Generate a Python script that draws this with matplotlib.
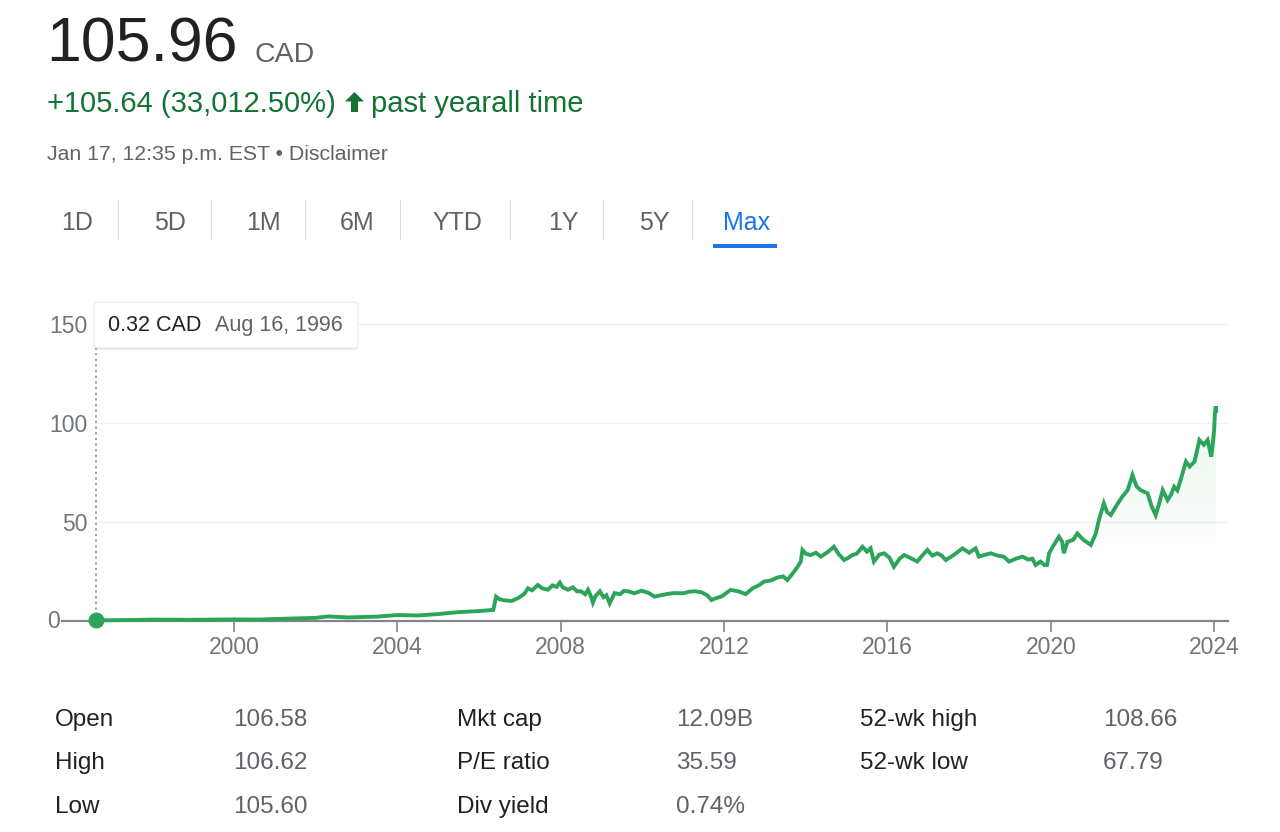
import matplotlib.pyplot as plt
import numpy as np
from matplotlib.patches import FancyBboxPatch, Polygon, Rectangle
from matplotlib.transforms import IdentityTransform

plt.rcParams["font.family"] = ["Liberation Sans", "DejaVu Sans"]

W, H = 1280, 832
GREEN = "#2ca55a"
TXT = "#202124"
GREY = "#5f6368"
AXG = "#70757a"
UP = "#137333"

# price history (CAD)
years = [
    1996.62, 1997.5, 1998.0, 1999.0, 2000.0, 2000.6, 2001.0, 2001.5, 2002.0, 2002.3,
    2002.8, 2003.5, 2004.0, 2004.5, 2005.0, 2005.5, 2006.0, 2006.35, 2006.42, 2006.5,
    2006.6, 2006.8, 2006.95, 2007.1, 2007.2, 2007.3, 2007.44, 2007.55, 2007.69, 2007.8,
    2007.9, 2007.98, 2008.05, 2008.18, 2008.3, 2008.4, 2008.5, 2008.6, 2008.67, 2008.75,
    2008.79, 2008.85, 2008.96, 2009.05, 2009.12, 2009.2, 2009.32, 2009.45, 2009.55, 2009.65,
    2009.8, 2009.98, 2010.15, 2010.3, 2010.5, 2010.65, 2010.79, 2011.0, 2011.15, 2011.28,
    2011.45, 2011.6, 2011.69, 2011.8, 2011.95, 2012.16, 2012.35, 2012.53, 2012.7, 2012.85,
    2012.98, 2013.15, 2013.31, 2013.45, 2013.55, 2013.7, 2013.8, 2013.88, 2013.92, 2014.0,
    2014.12, 2014.25, 2014.37, 2014.55, 2014.69, 2014.8, 2014.94, 2015.05, 2015.14, 2015.25,
    2015.39, 2015.5, 2015.59, 2015.67, 2015.8, 2015.92, 2016.05, 2016.16, 2016.3, 2016.41,
    2016.55, 2016.73, 2016.85, 2016.98, 2017.1, 2017.22, 2017.33, 2017.43, 2017.6, 2017.7,
    2017.84, 2018.0, 2018.16, 2018.24, 2018.4, 2018.53, 2018.7, 2018.85, 2018.98, 2019.15,
    2019.31, 2019.45, 2019.55, 2019.63, 2019.75, 2019.84, 2019.91, 2019.96, 2020.05, 2020.2,
    2020.28, 2020.32, 2020.41, 2020.55, 2020.65, 2020.8, 2020.98, 2021.1, 2021.18, 2021.3,
    2021.38, 2021.47, 2021.6, 2021.75, 2021.88, 2022.0, 2022.1, 2022.2, 2022.37, 2022.47,
    2022.57, 2022.65, 2022.74, 2022.86, 2022.95, 2023.02, 2023.1, 2023.19, 2023.31, 2023.4,
    2023.52, 2023.64, 2023.75, 2023.84, 2023.9, 2023.93, 2023.97, 2024.0, 2024.02, 2024.04,
    2024.05,
]
prices = [
    0.32, 0.5, 0.7, 0.6, 0.8, 0.7, 1.0, 1.3, 1.6, 2.3,
    1.8, 2.2, 3.0, 2.8, 3.5, 4.5, 5.0, 5.6, 12.3, 11.0,
    10.5, 10.1, 11.5, 13.5, 16.5, 15.5, 18.2, 16.5, 15.8, 18.0,
    17.2, 19.4, 17.0, 15.8, 17.0, 15.0, 15.0, 13.5, 15.8, 12.0,
    9.3, 12.5, 15.0, 12.0, 13.0, 8.9, 14.1, 13.5, 15.2, 15.0,
    14.0, 15.3, 14.2, 12.3, 13.2, 13.8, 14.1, 14.0, 14.8, 15.0,
    14.5, 12.8, 10.6, 11.5, 12.5, 15.7, 15.0, 13.6, 16.5, 18.0,
    19.9, 20.5, 22.0, 22.5, 20.7, 24.5, 27.4, 30.0, 35.9, 34.0,
    33.3, 34.5, 32.5, 35.0, 37.5, 34.0, 30.8, 32.0, 33.3, 34.0,
    37.5, 35.0, 36.7, 30.0, 33.5, 34.2, 32.0, 27.4, 31.5, 33.3,
    32.0, 30.0, 33.0, 35.9, 33.0, 34.2, 33.0, 30.8, 33.0, 34.5,
    36.7, 34.5, 36.7, 32.5, 33.5, 34.2, 33.0, 32.5, 30.0, 31.5,
    32.5, 31.0, 31.5, 28.3, 30.0, 28.3, 28.3, 34.2, 37.5, 42.6,
    40.0, 34.2, 40.0, 41.0, 44.2, 41.0, 38.4, 44.0, 51.0, 59.4,
    55.0, 53.5, 58.0, 62.8, 66.0, 73.7, 68.0, 66.1, 64.5, 58.0,
    53.5, 59.0, 66.1, 61.1, 64.0, 67.8, 66.0, 72.0, 80.5, 78.0,
    80.5, 91.4, 89.0, 91.4, 86.0, 83.0, 90.0, 96.5, 104.9, 108.5,
    106.0,
]

xticks = [2000, 2004, 2008, 2012, 2016, 2020, 2024]
yticks = [50, 100, 150]

tabs = ["1D", "5D", "1M", "6M", "YTD", "1Y", "5Y", "Max"]
tab_x = [77, 170, 263, 357, 457, 563, 654, 747]
sep_x = [118, 211, 305, 400, 510, 603, 692]

stat_labels = [["Open", "High", "Low"], ["Mkt cap", "P/E ratio", "Div yield"], ["52-wk high", "52-wk low"]]
stat_values = [["106.58", "106.62", "105.60"], ["12.09B", "35.59", "0.74%"], ["108.66", "67.79"]]

fig = plt.figure(figsize=(W / 100, H / 100), dpi=100)
PX = IdentityTransform()


def t(x, y, s, **kw):
    # x, y in image pixels (y from top)
    fig.text(x, H - y, s, transform=PX, **kw)


# header
t(46, 62, "105.96", fontsize=45, color=TXT, va="baseline")
t(254, 62, "CAD", fontsize=20.5, color=GREY, va="baseline")
t(47, 112, "+105.64 (33,012.50%)", fontsize=21, color=UP, va="baseline")
# filled up-arrow icon
arrow = [(354.5, 92), (364, 101.5), (358, 101.5), (358, 112), (351, 112), (351, 101.5), (345, 101.5)]
fig.patches.append(Polygon([(x, H - y) for x, y in arrow], closed=True, transform=PX,
                           color=UP, lw=0))
t(371, 112, "past yearall time", fontsize=21, color=UP, va="baseline")
t(47, 160, "Jan 17, 12:35 p.m. EST \u2022 Disclaimer", fontsize=15.3, color=GREY, va="baseline")

# range tabs
for lab, x in zip(tabs, tab_x):
    c = "#1a73e8" if lab == "Max" else GREY
    t(x, 230, lab, fontsize=18, color=c, ha="center", va="baseline")
for x in sep_x:
    fig.patches.append(Rectangle((x, H - 240), 1, 40, transform=PX, color="#dadce0", lw=0))
fig.patches.append(FancyBboxPatch((716, H - 248), 58, 3, boxstyle="round,pad=0,rounding_size=3",
                                  transform=PX, color="#1a73e8", lw=0))
fig.patches.append(Rectangle((713, H - 248), 64, 4, transform=PX, color="#1a73e8", lw=0))

# chart
x0, x1 = 1995.79, 2024.34
ylo, yhi = -8, 158
ppu = 1.98
bot = 621 + (-ylo) * ppu
top = 621 - yhi * ppu
ax = fig.add_axes([62 / W, (H - bot) / H, (1228 - 62) / W, (bot - top) / H])
ax.patch.set_alpha(0)

yr = np.array(years)
pr = np.array(prices)

ax.hlines(yticks, yr[0], x1, color="#eef0f1", lw=1, zorder=0)

# gradient under the line
gv = np.linspace(0, 110, 200)
alpha = 0.12 * np.clip((gv - 35) / 70, 0, 1)
rgba = np.zeros((200, 2, 4))
rgba[..., 0], rgba[..., 1], rgba[..., 2] = 0x2C / 255, 0xA5 / 255, 0x5A / 255
rgba[..., 3] = alpha[:, None]
im = ax.imshow(rgba, extent=[yr[0], yr[-1], 0, 110], origin="lower", aspect="auto",
               interpolation="bilinear", zorder=1)
poly = ax.fill_between(yr, pr, 0, color="none", lw=0)
im.set_clip_path(poly.get_paths()[0], ax.transData)

ax.plot(yr, pr, color=GREEN, lw=2.8, zorder=3, solid_joinstyle="miter")
ax.vlines(yr[0], 0, 138, colors="#80868b", linestyles=(0, (1.5, 2.2)), lw=1.1, zorder=2)
ax.plot(yr[0], pr[0], "o", ms=10.5, color=GREEN, clip_on=False, zorder=5)

ax.set_xlim(x0, x1)
ax.set_ylim(ylo, yhi)
for s in ["top", "right", "left"]:
    ax.spines[s].set_visible(False)
ax.spines["bottom"].set_position(("data", 0))
ax.spines["bottom"].set_color("#80868b")
ax.spines["bottom"].set_linewidth(1.6)
ax.spines["bottom"].set_zorder(2)
ax.set_xticks(xticks)
ax.set_xticklabels([str(v) for v in xticks])
ax.set_yticks(yticks)
ax.set_yticklabels([str(v) for v in yticks])
ax.tick_params(axis="x", length=8, width=1.2, color="#80868b", labelsize=16.5,
               labelcolor=AXG, pad=3)
ax.tick_params(axis="y", length=0, labelsize=16.5, labelcolor=AXG, pad=-18.5)
ax.text(x0 - 0.06, 0, "0", fontsize=16.5, color=AXG, ha="right", va="center")

# tooltip
fig.patches.append(FancyBboxPatch((94, H - 350), 264, 46, boxstyle="round,pad=0,rounding_size=4",
                                  transform=PX, color="black", alpha=0.08, lw=0))
fig.patches.append(FancyBboxPatch((94, H - 348), 264, 46, boxstyle="round,pad=0,rounding_size=4",
                                  transform=PX, facecolor="white", edgecolor="#e3e5e8", lw=0.6))
t(108, 331, "0.32 CAD", fontsize=15.5, color=TXT, va="baseline")
t(215, 331, "Aug 16, 1996", fontsize=15.5, color=GREY, va="baseline")

# key stats
row_y = [726, 769, 813]
lab_x = [55, 457, 860]
val_x = [233, 676, 1103]
for c in range(3):
    for r, (lab, val) in enumerate(zip(stat_labels[c], stat_values[c])):
        t(lab_x[c], row_y[r], lab, fontsize=17.5, color=TXT, va="baseline")
        t(val_x[c], row_y[r], val, fontsize=17.5, color=GREY, va="baseline")

fig.savefig("out.png", dpi=100)
